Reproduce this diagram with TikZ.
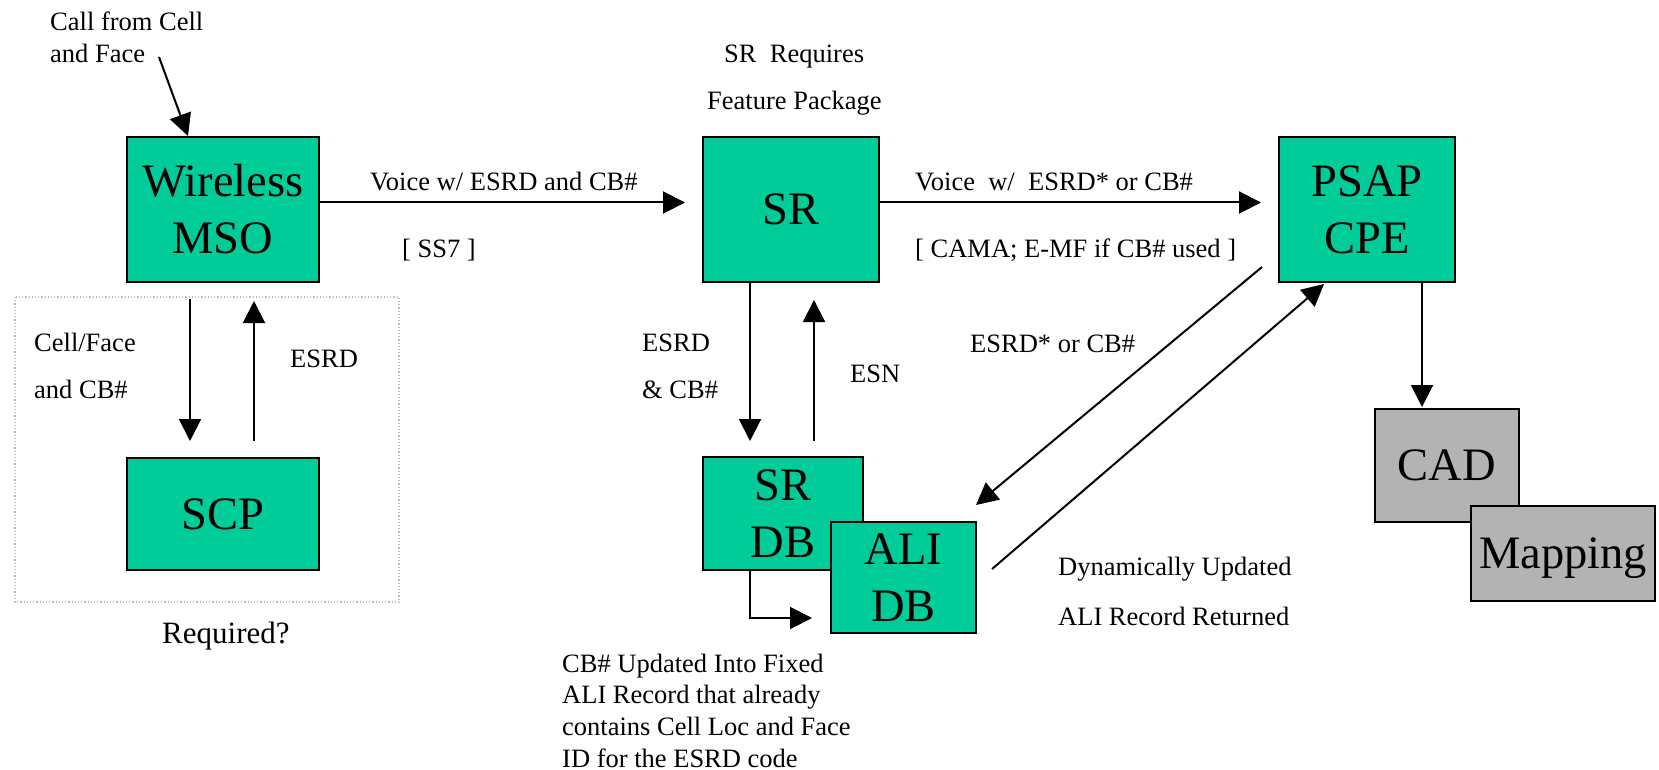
\documentclass[tikz,border=0pt]{standalone}
\usepackage{fontspec}
\setmainfont{Liberation Serif}
\usetikzlibrary{arrows.meta}
\definecolor{boxteal}{RGB}{0,204,153}
\definecolor{boxgray}{RGB}{179,179,179}
\definecolor{dotgray}{RGB}{190,190,190}
\tikzset{
  bigbox/.style={draw=black, line width=2pt, fill=boxteal, inner sep=0pt, align=center,
    font=\fontsize{46.5}{57}\selectfont},
  graybox/.style={bigbox, fill=boxgray},
  small/.style={inner sep=0pt, anchor=base west, font=\fontsize{26.5}{32}\selectfont},
  arr/.style={line width=2pt, -{Triangle[length=22pt,width=22pt]}},
}
\begin{document}
\begin{tikzpicture}[x=1pt,y=-1pt]
\useasboundingbox (0,0) rectangle (1659,770);
% dotted frame
\draw[dotgray, line width=1.2pt, dotted] (15,297) rectangle (399,602);
% boxes
\node[bigbox, minimum width=192pt, minimum height=145pt] (mso) at (223,209.5) {Wireless\\MSO};
\node[bigbox, minimum width=192pt, minimum height=112pt] (scp) at (223,514) {SCP};
\node[bigbox, minimum width=176pt, minimum height=145pt] (sr) at (791,209.5) {SR};
\node[bigbox, minimum width=176pt, minimum height=145pt] (psap) at (1367,209.5) {PSAP\\CPE};
\node[bigbox, minimum width=160pt, minimum height=113pt] (srdb) at (783,513.5) {SR\\DB};
\node[bigbox, minimum width=145pt, minimum height=111pt] (ali) at (903.5,577.5) {ALI\\DB};
\node[graybox, minimum width=144pt, minimum height=113pt] (cad) at (1447,465.5) {CAD};
\node[graybox, minimum width=184pt, minimum height=95pt, text depth=0pt] (map) at (1563,553.5) {Mapping};
% texts
\node[small] (t1) at (50,31) {Call from Cell};
\node[small] (t2) at (50,63) {and Face};
\node[small] (t3) at (724,63) {SR\ \ Requires};
\node[small] (t4) at (707,110) {Feature Package};
\node[small] (t5) at (370,190) {Voice w/ ESRD and CB\#};
\node[small] (t6) at (402,257) {[ SS7 ]};
\node[small] (t7) at (915,190) {Voice\ \ w/\ \ ESRD* or CB\#};
\node[small] (t8) at (915,257) {[ CAMA; E-MF if CB\# used ]};
\node[small] (t9) at (34,351) {Cell/Face};
\node[small] (t10) at (34,398) {and CB\#};
\node[small] (t11) at (290,367) {ESRD};
\node[small] (t12) at (642,351) {ESRD};
\node[small] (t13) at (642,398) {\& CB\#};
\node[small] (t14) at (850,382) {ESN};
\node[small] (t15) at (970,352) {ESRD* or CB\#};
\node[small] (t16) at (1058,575) {Dynamically Updated};
\node[small] (t17) at (1058,625) {ALI Record Returned};
\node[small] (t18) at (562,672) {CB\# Updated Into Fixed};
\node[small] (t19) at (562,703) {ALI Record that already};
\node[small] (t20) at (562,735) {contains Cell Loc and Face};
\node[small] (t21) at (562,767) {ID for the ESRD code};
\node[inner sep=0pt, anchor=base west, font=\fontsize{31}{37}\selectfont] (req) at (162,643) {Required?};
% connectors
\coordinate (callsrc) at (159,57);
\draw[arr] (callsrc) -- ([xshift=62pt]mso.north west);
\draw[arr] ([yshift=7pt]mso.east) -- ([xshift=-17pt,yshift=7pt]sr.west);
\draw[arr] ([yshift=7pt]sr.east) -- ([xshift=-17pt,yshift=7pt]psap.west);
\draw[arr] ([xshift=64pt,yshift=-16pt]mso.south west) -- ([xshift=64pt,yshift=16pt]scp.north west);
\draw[arr] ([xshift=128pt,yshift=16pt]scp.north west) -- ([xshift=128pt,yshift=-18pt]mso.south west);
\draw[arr] ([xshift=48pt]sr.south west) -- ([xshift=48pt,yshift=15pt]srdb.north west);
\draw[arr] ([xshift=112pt,yshift=15pt]srdb.north west) -- ([xshift=112pt,yshift=-17pt]sr.south west);
\draw[arr] ([xshift=48pt]srdb.south west) |- ([xshift=-18pt,yshift=-40.5pt]ali.west);
\draw[arr] ([xshift=-16pt,yshift=16pt]psap.south west) -- ([xshift=-1pt,yshift=16pt]ali.north east);
\draw[arr] ([xshift=15pt,yshift=8.5pt]ali.east) -- ([xshift=46pt,yshift=-1pt]psap.south west);
\draw[arr] ([xshift=144pt]psap.south west) -- ([xshift=48pt,yshift=1pt]cad.north west);
\end{tikzpicture}
\end{document}
